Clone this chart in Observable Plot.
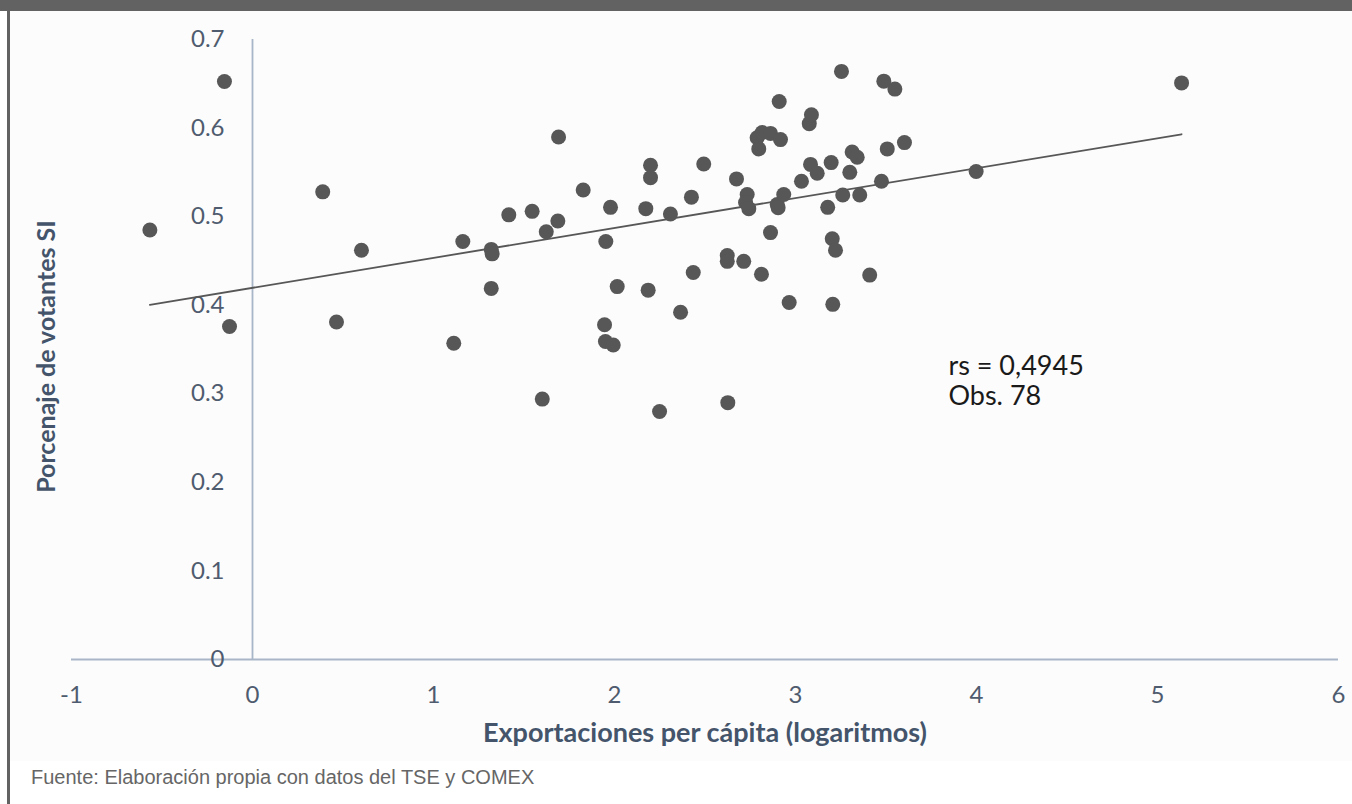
<!DOCTYPE html>
<html>
<head>
<meta charset="utf-8">
<script src="https://cdn.jsdelivr.net/npm/d3@7"></script>
<script src="https://cdn.jsdelivr.net/npm/@observablehq/plot@0.6"></script>
<style>
  html, body { margin: 0; padding: 0; background: #ffffff; }
  #topbar { height: 11px; width: 1352px; background: #626262; }
  #frame { margin-left: 7px; border-left: 3px solid #626262; width: 1342px; height: 793px; background: #ffffff; }
  #chart svg { display: block; }
  #caption { font-family: "Liberation Sans", Arial, sans-serif; font-size: 20px; color: #666666; padding-left: 21px; margin-top: 4px; line-height: 24px; }
</style>
</head>
<body>
<div id="topbar"></div>
<div id="frame">
  <div id="chart"></div>
  <div id="caption">Fuente: Elaboración propia con datos del TSE y COMEX</div>
</div>
<script>
// Exportaciones per cápita (logaritmos)
const exportLog = [
  -0.567, -0.155, -0.127, 0.388, 0.464, 0.602, 1.112, 1.162, 1.319, 1.324,
  1.319, 1.416, 1.545, 1.601, 1.623, 1.687, 1.691, 1.827, 1.945, 1.950,
  1.993, 1.952, 1.978, 2.015, 2.173, 2.186, 2.199, 2.199, 2.249, 2.309,
  2.365, 2.425, 2.435, 2.493, 2.623, 2.623, 2.626, 2.674, 2.714, 2.733,
  2.724, 2.742, 2.788, 2.816, 2.862, 2.917, 2.797, 2.812, 2.862, 2.910,
  2.899, 2.904, 2.935, 2.965, 3.033, 3.076, 3.088, 3.083, 3.120, 3.178,
  3.197, 3.203, 3.221, 3.206, 3.254, 3.261, 3.300, 3.313, 3.341, 3.355,
  3.410, 3.475, 3.488, 3.549, 3.507, 3.602, 3.998, 5.133
];
// Porcentaje de votantes SI
const votesSi = [
  0.485, 0.6525, 0.376, 0.528, 0.381, 0.462, 0.357, 0.472, 0.463, 0.458,
  0.419, 0.502, 0.506, 0.294, 0.483, 0.495, 0.590, 0.530, 0.378, 0.359,
  0.355, 0.472, 0.5105, 0.421, 0.509, 0.417, 0.558, 0.544, 0.280, 0.503,
  0.392, 0.522, 0.437, 0.5595, 0.456, 0.4495, 0.290, 0.5426, 0.4495, 0.525,
  0.516, 0.509, 0.589, 0.595, 0.594, 0.587, 0.5765, 0.435, 0.482, 0.630,
  0.5136, 0.510, 0.525, 0.403, 0.540, 0.605, 0.615, 0.559, 0.549, 0.5105,
  0.561, 0.475, 0.462, 0.401, 0.664, 0.5245, 0.550, 0.573, 0.567, 0.5245,
  0.434, 0.540, 0.653, 0.644, 0.5765, 0.5836, 0.551, 0.651
];
// Linear trend line endpoints as drawn
const trendX = [-0.567, 5.133];
const trendY = [0.4005, 0.593];

const xTicks = [-1, 0, 1, 2, 3, 4, 5, 6];
const xTickLabels = ["-1", "0", "1", "2", "3", "4", "5", "6"];
const yTicks = [0, 0.1, 0.2, 0.3, 0.4, 0.5, 0.6, 0.7];
const yTickLabels = ["0", "0.1", "0.2", "0.3", "0.4", "0.5", "0.6", "0.7"];

const xTitle = "Exportaciones per cápita (logaritmos)";
const yTitle = "Porcenaje de votantes SI";
const noteLines = ["rs = 0,4945", "Obs. 78"];
const noteX = 3.845;
const noteY = 0.3147;

const points = exportLog.map((x, i) => ({x, y: votesSi[i]}));
const trend = trendX.map((x, i) => ({x, y: trendY[i]}));
const note = [{t: noteLines.join("\n"), x: noteX, y: noteY}];

const axisColor = "#a9b6c8";
const tickColor = "#4f5b6e";
const titleColor = "#44546a";
const dotColor = "#575757";

const chart = Plot.plot({
  width: 1342,
  height: 750,
  marginLeft: 61,
  marginRight: 14,
  marginTop: 28,
  marginBottom: 102,
  style: { fontFamily: "Lato, 'Open Sans', sans-serif", background: "#fcfcfc", overflow: "visible" },
  x: { domain: [-1, 6], axis: null },
  y: { domain: [0, 0.7], axis: null },
  marks: [
    Plot.ruleY([0], { stroke: axisColor, strokeWidth: 1.8 }),
    Plot.ruleX([0], { y1: 0, y2: 0.7, stroke: axisColor, strokeWidth: 1.8 }),
    Plot.text(yTicks, { x: 0, y: d => d, text: (d, i) => yTickLabels[i], dx: -28, textAnchor: "end", fontSize: 24, fill: tickColor }),
    Plot.text(xTicks, { x: d => d, y: 0, text: (d, i) => xTickLabels[i], dy: 36, fontSize: 24, fill: tickColor }),
    Plot.line(trend, { x: "x", y: "y", stroke: dotColor, strokeWidth: 1.8 }),
    Plot.dot(points, { x: "x", y: "y", r: 7.5, fill: dotColor, stroke: "none" }),
    Plot.text(note, { x: "x", y: "y", text: "t", textAnchor: "start", lineAnchor: "middle", lineHeight: 1.1, fontSize: 27, fill: "#1a1a1a" }),
    Plot.text([xTitle], { frameAnchor: "bottom", dy: 82, fontSize: 27, fontWeight: "bold", fill: titleColor }),
    Plot.text([yTitle], { x: -1.133, y: 0.342, rotate: -90, fontSize: 25, fontWeight: "bold", fill: titleColor })
  ]
});
document.getElementById("chart").appendChild(chart);
</script>
</body>
</html>
